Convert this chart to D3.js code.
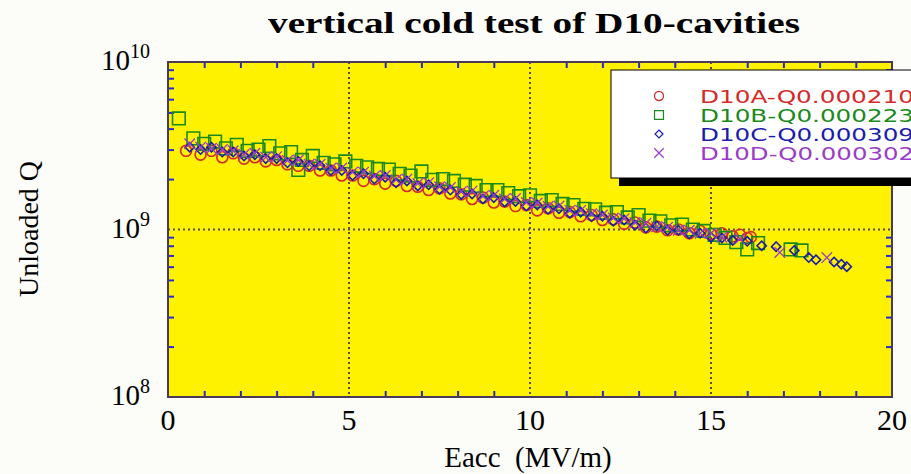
<!DOCTYPE html>
<html>
<head>
<meta charset="utf-8">
<script src="https://cdn.jsdelivr.net/npm/d3@7"></script>
<style>
  body { margin: 0; background: #fcfcf8; }
  svg { display: block; }
</style>
</head>
<body>
<svg width="911" height="474"></svg>
<script>
// data: Eacc in MV/m, unloaded Q
var eaccA = [0.5,0.9,1.2,1.5,1.8,2.1,2.4,2.7,3.0,3.3,3.6,3.9,4.2,4.5,4.8,5.1,5.4,5.7,6.0,6.3,6.6,6.9,7.2,7.5,7.8,8.1,8.4,8.7,9.0,9.3,9.6,9.9,10.2,10.5,10.8,11.1,11.4,11.7,12.0,12.3,12.6,12.9,13.2,13.5,13.8,14.1,14.4,14.7,15.0,15.3,15.6,15.8,16.0,16.1];
var qA = [2.95e9,2.8e9,2.95e9,2.7e9,2.85e9,2.65e9,2.7e9,2.55e9,2.6e9,2.45e9,2.4e9,2.4e9,2.25e9,2.25e9,2.1e9,2.1e9,1.95e9,2.0e9,1.88e9,1.95e9,1.82e9,1.8e9,1.72e9,1.76e9,1.64e9,1.62e9,1.52e9,1.55e9,1.45e9,1.47e9,1.38e9,1.4e9,1.3e9,1.34e9,1.26e9,1.27e9,1.2e9,1.22e9,1.14e9,1.15e9,1.08e9,1.1e9,1.03e9,1.04e9,0.99e9,1.0e9,0.95e9,0.98e9,0.94e9,0.95e9,0.91e9,0.93e9,0.89e9,0.9e9];

var eaccB = [0.3,0.7,1.0,1.3,1.6,1.9,2.2,2.5,2.8,3.1,3.4,3.6,3.7,4.0,4.3,4.6,4.9,5.2,5.5,5.8,6.1,6.4,6.7,7.0,7.3,7.6,7.9,8.2,8.5,8.8,9.1,9.4,9.7,10.0,10.3,10.6,10.9,11.2,11.5,11.8,12.1,12.4,12.7,13.0,13.3,13.6,13.9,14.2,14.5,14.8,15.1,15.4,15.7,16.0,16.3,17.2,17.5];
var qB = [4.6e9,3.5e9,3.25e9,3.35e9,3.05e9,3.2e9,2.95e9,3.0e9,3.15e9,2.85e9,2.9e9,2.27e9,2.6e9,2.75e9,2.5e9,2.45e9,2.55e9,2.4e9,2.35e9,2.3e9,2.28e9,2.15e9,2.1e9,2.22e9,1.98e9,2.0e9,1.95e9,1.85e9,1.82e9,1.72e9,1.72e9,1.65e9,1.58e9,1.6e9,1.48e9,1.5e9,1.42e9,1.4e9,1.33e9,1.32e9,1.26e9,1.27e9,1.18e9,1.22e9,1.13e9,1.12e9,1.06e9,1.07e9,1.0e9,0.98e9,0.93e9,0.89e9,0.84e9,0.76e9,0.83e9,0.76e9,0.75e9];

var eaccC = [0.6,0.9,1.2,1.5,1.8,2.1,2.4,2.7,3.0,3.3,3.6,3.9,4.2,4.5,4.8,5.1,5.4,5.7,6.0,6.3,6.6,6.9,7.2,7.5,7.8,8.1,8.4,8.7,9.0,9.3,9.6,9.9,10.2,10.5,10.8,11.1,11.4,11.7,12.0,12.3,12.6,12.9,13.2,13.5,13.8,14.1,14.4,14.7,15.0,15.3,15.6,16.0,16.4,16.8,17.3,17.7,17.9,18.4,18.6,18.75];
var qC = [3.1e9,3.0e9,3.1e9,2.9e9,2.9e9,2.75e9,2.8e9,2.65e9,2.65e9,2.5e9,2.55e9,2.4e9,2.4e9,2.25e9,2.25e9,2.1e9,2.15e9,2.0e9,2.05e9,1.9e9,1.95e9,1.82e9,1.85e9,1.74e9,1.72e9,1.62e9,1.63e9,1.52e9,1.55e9,1.46e9,1.47e9,1.38e9,1.4e9,1.32e9,1.33e9,1.25e9,1.27e9,1.19e9,1.2e9,1.12e9,1.14e9,1.06e9,1.02e9,1.05e9,0.99e9,0.99e9,0.94e9,0.95e9,0.9e9,0.89e9,0.86e9,0.85e9,0.8e9,0.79e9,0.75e9,0.68e9,0.66e9,0.64e9,0.62e9,0.6e9];

var eaccD = [0.6,0.9,1.2,1.5,1.8,2.1,2.4,2.7,3.0,3.3,3.6,3.9,4.2,4.5,4.8,5.1,5.4,5.7,6.0,6.3,6.6,6.9,7.2,7.5,7.8,8.1,8.4,8.7,9.0,9.3,9.6,9.9,10.2,10.5,10.8,11.1,11.4,11.7,12.0,12.3,12.6,12.9,13.2,13.5,13.8,14.1,14.4,14.7,15.0,15.3,15.8,16.9,18.2];
var qD = [3.25e9,3.1e9,3.05e9,3.0e9,2.95e9,2.8e9,2.85e9,2.7e9,2.72e9,2.58e9,2.6e9,2.45e9,2.45e9,2.32e9,2.33e9,2.2e9,2.2e9,2.08e9,2.1e9,1.98e9,2.0e9,1.88e9,1.9e9,1.8e9,1.78e9,1.68e9,1.7e9,1.58e9,1.6e9,1.52e9,1.53e9,1.45e9,1.44e9,1.37e9,1.38e9,1.3e9,1.3e9,1.24e9,1.22e9,1.17e9,1.16e9,1.1e9,1.09e9,1.04e9,1.03e9,0.99e9,0.99e9,0.95e9,0.95e9,0.9e9,0.88e9,0.73e9,0.68e9];

var seriesNames = ["D10A-Q0.000210", "D10B-Q0.000223", "D10C-Q0.000309", "D10D-Q0.000302"];
var seriesColors = ["#d42a2a", "#1a8a1a", "#1c1caa", "#9a3cc8"];
var xTicks = [0, 5, 10, 15, 20];
var yTicks = [1e8, 1e9, 1e10];

var svg = d3.select("svg");
var m = {top:62, right:19, bottom:77, left:168};
var W = 911 - m.left - m.right,
	H = 474 - m.top - m.bottom;

var x = d3.scaleLinear().domain([0, 20]).range([0, W]);
var y = d3.scaleLog().domain([1e8, 1e10]).range([H, 0]);

var plot = svg.append("g").attr("transform", "translate(" + m.left + "," + m.top + ")");

plot.append("rect").attr("width", W).attr("height", H).attr("fill", "#fff200");

// dotted grid at the major ticks
plot.selectAll(".gx").data([5, 10, 15]).enter().append("line")
	.attr("x1", d => x(d)).attr("x2", d => x(d)).attr("y1", 0).attr("y2", H)
	.attr("stroke", "#5a4a5a").attr("stroke-width", 2).attr("stroke-dasharray", "2,3");
plot.selectAll(".gy").data([1e9]).enter().append("line")
	.attr("y1", d => y(d)).attr("y2", d => y(d)).attr("x1", 0).attr("x2", W)
	.attr("stroke", "#5a4a5a").attr("stroke-width", 2).attr("stroke-dasharray", "2,3");

// inward minor ticks on all four sides
var minorX = d3.range(1, 20).filter(d => d % 5 != 0);
var minorY = [2e8,3e8,4e8,5e8,6e8,7e8,8e8,9e8,2e9,3e9,4e9,5e9,6e9,7e9,8e9,9e9];
var tickCol = "#2828d0";
plot.append("g").call(d3.axisTop(x).tickValues(minorX).tickSize(6).tickFormat(""))
	.attr("transform", "translate(0," + H + ")");
plot.append("g").call(d3.axisBottom(x).tickValues(minorX).tickSize(6).tickFormat(""));
plot.append("g").call(d3.axisRight(y).tickValues(minorY).tickSize(6).tickFormat(""));
plot.append("g").call(d3.axisLeft(y).tickValues(minorY).tickSize(6).tickFormat(""))
	.attr("transform", "translate(" + W + ",0)");
plot.selectAll(".domain").remove();
plot.selectAll(".tick line").attr("stroke", tickCol).attr("stroke-width", 2);

// markers
var pts = [[eaccA, qA], [eaccB, qB], [eaccC, qC], [eaccD, qD]];
var symTypes = [d3.symbolCircle, d3.symbolSquare, d3.symbolDiamond2, d3.symbolX];
var symSizes = [95, 160, 55, 75];

pts.forEach(function(p, i){
	var data = p[0].map((e, j) => ({e: e, q: p[1][j]}));
	plot.append("g").selectAll("path").data(data).enter().append("path")
		.attr("transform", d => "translate(" + x(d.e) + "," + y(d.q) + ")")
		.attr("d", d3.symbol().type(symTypes[i]).size(symSizes[i]))
		.attr("fill", "none")
		.attr("stroke", seriesColors[i])
		.attr("stroke-width", i == 3 ? 1.3 : 1.6);
});

// frame
plot.append("rect").attr("width", W).attr("height", H)
	.attr("fill", "none").attr("stroke", "#4a3a5a").attr("stroke-width", 2);

// axis labels
var serif = "'Liberation Serif', 'DejaVu Serif', serif";
svg.selectAll(".xl").data(xTicks).enter().append("text")
	.attr("x", d => m.left + x(d)).attr("y", 430)
	.attr("text-anchor", "middle").attr("font-family", serif).attr("font-size", 30)
	.text(d => d);

var yl = svg.selectAll(".yl").data(yTicks).enter().append("text")
	.attr("x", 150).attr("y", d => m.top + y(d) + 8)
	.attr("text-anchor", "end").attr("font-family", serif).attr("font-size", 29);
yl.append("tspan").text("10");
yl.append("tspan").attr("dy", -12).attr("font-size", 20).text(d => Math.round(Math.log10(d)));

svg.append("text").attr("x", 528).attr("y", 467)
	.attr("text-anchor", "middle").attr("font-family", serif).attr("font-size", 29)
	.attr("xml:space", "preserve").text("Eacc  (MV/m)");

svg.append("text").attr("transform", "translate(38,229) rotate(-90)")
	.attr("text-anchor", "middle").attr("font-family", serif).attr("font-size", 28)
	.text("Unloaded Q");

svg.append("text").attr("x", 534).attr("y", 33)
	.attr("text-anchor", "middle").attr("font-family", serif).attr("font-size", 29)
	.attr("font-weight", "bold").attr("textLength", 532).attr("lengthAdjust", "spacingAndGlyphs")
	.text("vertical cold test of D10-cavities");

// legend box with drop shadow
var lg = svg.append("g").attr("transform", "translate(611,70)");
lg.append("rect").attr("x", 8).attr("y", 8).attr("width", 320).attr("height", 108).attr("fill", "#000");
lg.append("rect").attr("width", 320).attr("height", 108).attr("fill", "#fff").attr("stroke", "#000");
seriesNames.forEach(function(name, i){
	var row = lg.append("g").attr("transform", "translate(0," + (26 + i * 19) + ")");
	row.append("path").attr("transform", "translate(48,0)")
		.attr("d", d3.symbol().type(symTypes[i]).size([65, 80, 40, 60][i]))
		.attr("fill", "none").attr("stroke", seriesColors[i]).attr("stroke-width", 1.2);
	row.append("text").attr("x", 89).attr("y", 7)
		.attr("font-family", "'DejaVu Sans', sans-serif").attr("font-size", 18)
		.attr("textLength", 214).attr("lengthAdjust", "spacingAndGlyphs")
		.attr("fill", seriesColors[i]).text(name);
});
</script>
</body>
</html>
